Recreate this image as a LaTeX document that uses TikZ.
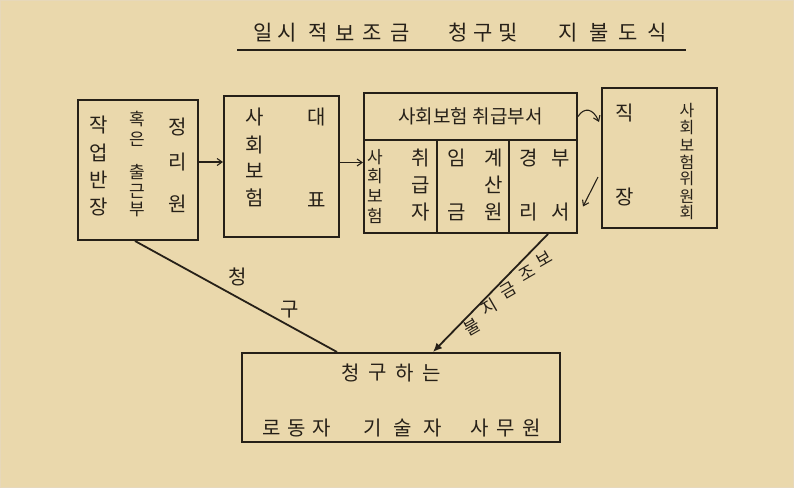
\documentclass[tikz,border=0pt]{standalone}
\usepackage{fontspec}
\newfontfamily\kr{Noto Sans CJK KR}
\usetikzlibrary{arrows.meta,calc}
\definecolor{paper}{RGB}{234,216,172}
\definecolor{paperdark}{RGB}{214,190,140}
\definecolor{ink}{RGB}{38,32,24}
\tikzset{
  box/.style={draw=ink, line width=2pt, inner sep=0pt},
  ch/.style={font=\kr\fontsize{20}{20}\selectfont, text=ink, inner sep=0pt},
  sch/.style={font=\kr\fontsize{17}{17}\selectfont, text=ink, inner sep=0pt},
  tch/.style={font=\kr\fontsize{21}{21}\selectfont, text=ink, inner sep=0pt},
  link/.style={draw=ink, line width=1.8pt},
  small/.style={draw=ink, line width=1.1pt, -{Straight Barb[length=5pt,width=7pt]}},
}
\begin{document}
\begin{tikzpicture}[x=1pt,y=-1pt]
\useasboundingbox (0,0) rectangle (794,488);
\fill[paper] (0,0) rectangle (794,488);
\draw[paperdark!60, line width=1pt] (0.5,0.5) rectangle (793.5,487.5);
% title
\foreach \c/\x [count=\i] in {일/263,시/287,적/318,보/345,조/372,금/400,청/458,구/483,및/508,지/568,불/599,도/628,식/657}
  \node[tch] (t\i) at (\x,33) {\c};
\coordinate (ul1) at (237,50);
\coordinate (ul2) at (686,50);
\draw[ink, line width=1.8pt] (ul1) -- (ul2);
% box 1
\node[box, minimum width=120pt, minimum height=140pt] (b1) at (138,170) {};
\foreach \c/\y [count=\i] in {작/125,업/153,반/180,장/207}
  \node[ch] (a\i) at (99,\y) {\c};
\foreach \c/\y [count=\i] in {혹/119,은/139,출/172,근/191,부/209}
  \node[sch] (m\i) at (137,\y) {\c};
\foreach \c/\y [count=\i] in {정/127,리/162,원/204}
  \node[ch] (r\i) at (178,\y) {\c};
% box 2
\node[box, minimum width=115pt, minimum height=141pt] (b2) at (281.5,166.5) {};
\foreach \c/\y [count=\i] in {사/117,회/145,보/171,험/198}
  \node[ch] (s\i) at (255,\y) {\c};
\node[ch] (d1) at (317,117) {대};
\node[ch] (d2) at (317,200) {표};
% box 3
\node[box, minimum width=213pt, minimum height=47pt] (h3) at (470.5,116.5) {};
\node[ch, font=\kr\fontsize{19}{19}\selectfont] (h3t) at (h3) {사회보험 취급부서};
\node[box, minimum width=73pt, minimum height=93pt] (c1) at (400.5,186.5) {};
\node[box, minimum width=72pt, minimum height=93pt] (c2) at (473,186.5) {};
\node[box, minimum width=68pt, minimum height=93pt] (c3) at (543,186.5) {};
\foreach \c/\y [count=\i] in {사/157,회/176,보/196,험/216}
  \node[sch] (p\i) at (375,\y) {\c};
\foreach \c/\y [count=\i] in {취/158,급/185,자/212}
  \node[ch] (q\i) at (421,\y) {\c};
\node[ch] (w1) at (457,158) {임};
\node[ch] (w2) at (457,212) {금};
\foreach \c/\y [count=\i] in {계/158,산/185,원/212}
  \node[ch] (k\i) at (494,\y) {\c};
\node[ch] (g1) at (529,158) {경};
\node[ch] (g2) at (529,212) {리};
\node[ch] (g3) at (561,158) {부};
\node[ch] (g4) at (561,212) {서};
% box 4
\node[box, minimum width=115pt, minimum height=140pt] (b4) at (659.5,158) {};
\node[ch] (j1) at (625,113) {직};
\node[ch] (j2) at (625,197) {장};
\foreach \c [count=\i] in {사,회,보,험,위,원,회}
  \node[sch, font=\kr\fontsize{16}{16}\selectfont] (v\i) at (687,{111+17*(\i-1)}) {\c};
% bottom box
\node[box, minimum width=318pt, minimum height=89pt] (bt) at (401,397.5) {};
\foreach \c [count=\i] in {청,구,하,는}
  \node[ch] (y\i) at ({351+27*(\i-1)},373) {\c};
\foreach \c/\x [count=\i] in {로/272,동/297,자/322,기/373,술/403,자/433,사/480,무/506,원/532}
  \node[ch] (z\i) at (\x,428) {\c};
% connectors
\coordinate (a12) at ([yshift=8pt]b1.east);
\draw[small] (a12) -- (a12 -| b2.west);
\coordinate (a23) at ([yshift=4pt]b2.east);
\draw[small] (a23) -- (a23 -| c1.west);
\coordinate (a34) at ([yshift=36pt]b4.west);
\draw[small] (h3.east) .. controls (584,107) and (593,108) .. ([xshift=-2pt]a34);
\coordinate (dn1) at ([xshift=-3pt,yshift=-19pt]b4.west);
\coordinate (dn2) at ([xshift=5pt,yshift=-20pt]c3.east);
\draw[small] (dn1) -- (dn2);
\coordinate (bl) at ($(bt.north west)!0.30!(bt.north east)$);
\coordinate (br) at ($(bt.north west)!0.60!(bt.north east)$);
\draw[link] ([xshift=-3pt]b1.south) -- (bl);
\draw[link, -{Latex[length=9pt,width=8pt]}] ([xshift=5pt]c3.south) -- (br);
% line labels
\node[ch] (l1) at (238,277) {청};
\node[ch] (l2) at (290,310) {구};
\foreach \c/\x/\y [count=\i] in {보/544/259,조/527/273,금/508/290,지/489/307,불/472/327}
  \node[sch, rotate=30] (n\i) at (\x,\y) {\c};
\end{tikzpicture}
\end{document}
